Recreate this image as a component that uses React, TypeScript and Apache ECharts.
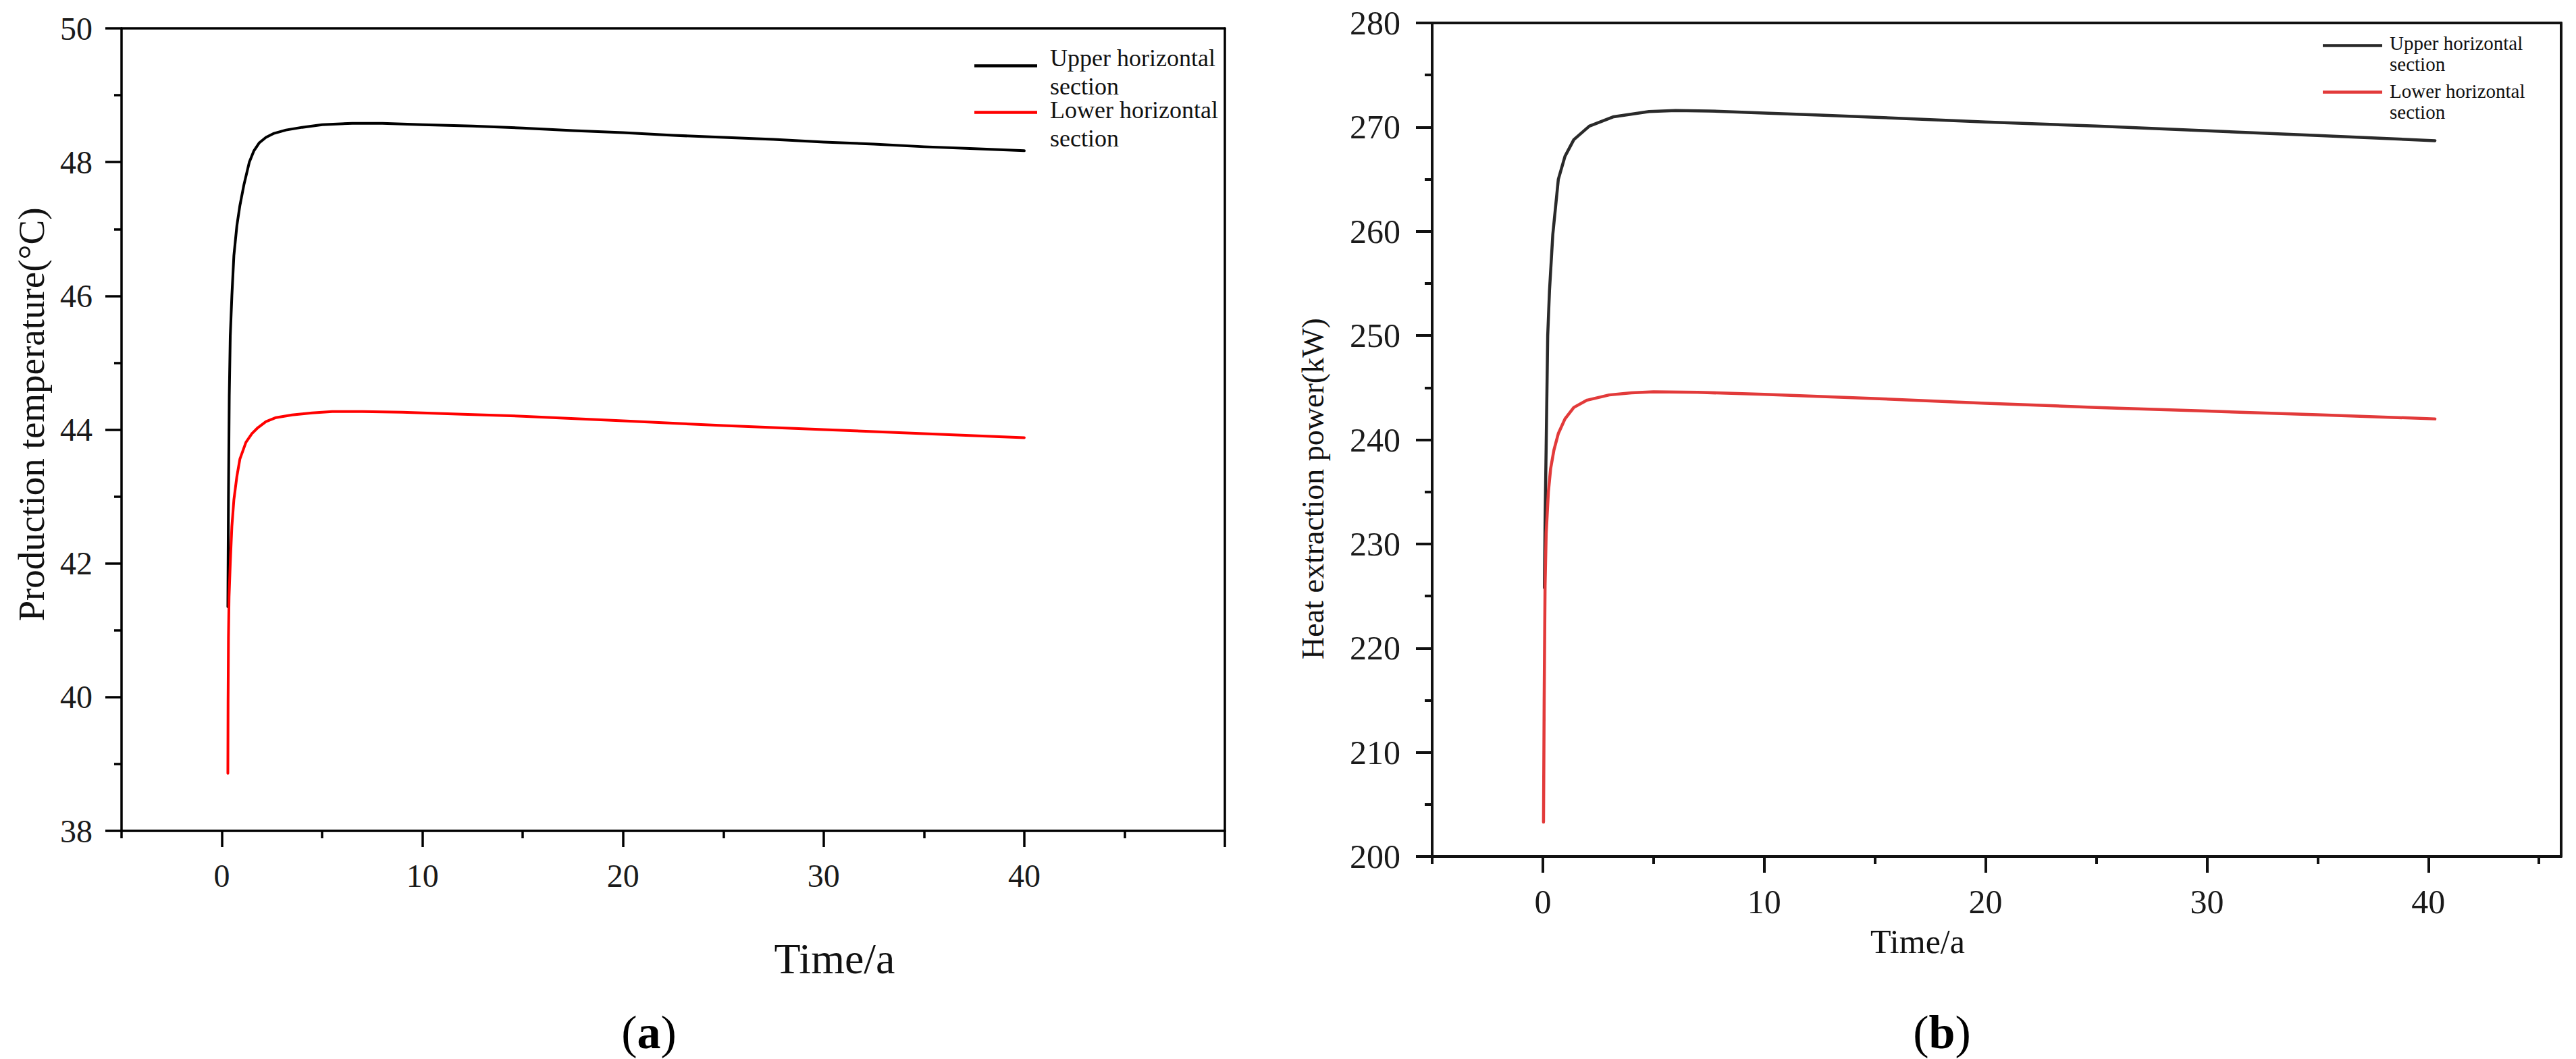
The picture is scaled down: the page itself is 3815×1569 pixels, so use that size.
import React, { useEffect, useRef } from "react";
import * as echarts from "echarts";

// ---------- data (a): production temperature ----------
const leftUpperX = [0.3, 0.33, 0.37, 0.42, 0.5, 0.6, 0.75, 0.9, 1.1, 1.37, 1.6, 1.87, 2.2, 2.6, 3.2, 4, 5, 6.5, 8, 10, 12.5, 15, 17.5, 20, 22.5, 25, 27.5, 30, 32.5, 35, 37.5, 40];
const leftUpperY = [41.35, 43.0, 44.5, 45.4, 46.0, 46.6, 47.05, 47.35, 47.66, 48.0, 48.17, 48.29, 48.37, 48.43, 48.48, 48.52, 48.56, 48.58, 48.58, 48.56, 48.54, 48.51, 48.47, 48.44, 48.4, 48.37, 48.34, 48.3, 48.27, 48.23, 48.2, 48.17];
const leftLowerX = [0.3, 0.31, 0.33, 0.36, 0.42, 0.5, 0.6, 0.75, 0.9, 1.2, 1.5, 1.8, 2.2, 2.7, 3.5, 4.5, 5.5, 7, 9, 12, 15, 20, 25, 30, 35, 40];
const leftLowerY = [38.86, 39.9, 40.9, 41.5, 42.0, 42.55, 42.95, 43.3, 43.56, 43.81, 43.94, 44.03, 44.12, 44.18, 44.22, 44.25, 44.27, 44.27, 44.26, 44.23, 44.2, 44.13, 44.06, 44.0, 43.94, 43.88];

// ---------- data (b): heat extraction power ----------
const rightUpperX = [0.07, 0.1, 0.15, 0.22, 0.3, 0.45, 0.7, 1.0, 1.4, 2.1, 3.2, 4.8, 6, 7.5, 10, 12.5, 15, 20, 25, 30, 35, 40.3];
const rightUpperY = [225.8, 232, 239.3, 250, 254.3, 259.7, 265.0, 267.2, 268.8, 270.1, 271.0, 271.5, 271.6, 271.55, 271.35, 271.15, 270.95, 270.5, 270.1, 269.65, 269.2, 268.7];
const rightLowerX = [0.03, 0.06, 0.1, 0.15, 0.25, 0.35, 0.5, 0.7, 1.0, 1.4, 2, 3, 4, 5, 7, 10, 15, 20, 25, 30, 35, 40.3];
const rightLowerY = [203.3, 215, 226, 231, 235, 237.2, 239, 240.6, 242, 243.1, 243.8, 244.3, 244.5, 244.6, 244.55, 244.35, 243.95, 243.5, 243.1, 242.75, 242.4, 242.0];

// ---------- ticks / labels ----------
const leftXMajor = [0, 10, 20, 30, 40, 50];
const leftXMinor = [-5, 5, 15, 25, 35, 45];
const leftXLabels = [0, 10, 20, 30, 40];
const rightXMajor = [0, 10, 20, 30, 40];
const rightXMinor = [-5, 5, 15, 25, 35, 45];
const rightXLabels = [0, 10, 20, 30, 40];

const seriesNames = ["Upper horizontal section", "Lower horizontal section"];

const F = "'Times New Roman', 'Liberation Serif', serif";

const pairs = (xs: number[], ys: number[]) => xs.map((x, i) => [x, ys[i]]);

function buildOption() {
  const axL = { color: "#000", width: 3.5 };
  const axR = { color: "#111", width: 4 };

  const xAxes = (gi: number, min: number, max: number, major: number[], minor: number[], labels: number[], ls: any, fs: number) => [
    {
      gridIndex: gi, type: "value", position: "bottom", min, max,
      axisLine: { show: true, onZero: false, lineStyle: ls },
      axisTick: { show: true, customValues: major, length: 24, lineStyle: ls },
      axisLabel: { show: true, customValues: labels, margin: 42, fontSize: fs, fontFamily: F, color: "#1a1a1a" },
      splitLine: { show: false },
    },
    {
      gridIndex: gi, type: "value", position: "bottom", min, max,
      axisLine: { show: false, onZero: false },
      axisTick: { show: true, customValues: minor, length: 11, lineStyle: ls },
      axisLabel: { show: false },
      splitLine: { show: false },
    },
    {
      gridIndex: gi, type: "value", position: "top", min, max,
      axisLine: { show: true, onZero: false, lineStyle: ls },
      axisTick: { show: false },
      axisLabel: { show: false },
      splitLine: { show: false },
    },
  ];

  const yAxes = (gi: number, min: number, max: number, interval: number, ls: any, fs: number, margin: number) => [
    {
      gridIndex: gi, type: "value", position: "left", min, max, interval,
      axisLine: { show: true, onZero: false, lineStyle: ls },
      axisTick: { show: true, length: 24, lineStyle: ls },
      minorTick: { show: true, splitNumber: 2, length: 11, lineStyle: ls },
      axisLabel: { show: true, margin, fontSize: fs, fontFamily: F, color: "#1a1a1a" },
      splitLine: { show: false },
    },
    {
      gridIndex: gi, type: "value", position: "right", min, max,
      axisLine: { show: true, onZero: false, lineStyle: ls },
      axisTick: { show: false },
      axisLabel: { show: false },
      splitLine: { show: false },
    },
  ];

  const line = (name: string, xi: number, yi: number, data: number[][], color: string, width: number) => ({
    type: "line", name, xAxisIndex: xi, yAxisIndex: yi, data,
    showSymbol: false, symbol: "none", smooth: false,
    lineStyle: { color, width, join: "round", cap: "round" },
    itemStyle: { color },
  });

  // one legend per item so each can sit exactly where the reference has it
  const legend = (name: string, color: string, left: number, top: number, w: number, fs: number, lh: number, padTop: number, padLeft: number) => ({
    show: true, left, top, padding: 0, orient: "vertical", selectedMode: false,
    icon: "rect", itemWidth: w, itemHeight: 4.5,
    data: [{ name, itemStyle: { color } }],
    formatter: (n: string) => {
      const [a, b] = n.split(" section");
      return `{s| }\n{t|${a}}\n{t|section${b}}`;
    },
    textStyle: {
      fontFamily: F, fontSize: fs, color: "#111",
      rich: {
        s: { fontSize: 1, lineHeight: padTop, fontFamily: F },
        t: { fontSize: fs, lineHeight: lh, fontFamily: F, color: "#111", padding: [0, 0, 0, padLeft] },
      },
    },
  });

  const label = (text: string, x: number, y: number, fs: number, rot = 0) => ({
    type: "text", x, y, rotation: rot,
    style: { text, fontFamily: F, fontSize: fs, fill: "#111", align: "center", verticalAlign: "middle" },
  });

  const panelTag = (letter: string, x: number, y: number) => ({
    type: "text", x, y,
    style: {
      text: `{p|(}{b|${letter}}{p|)}`, align: "center", verticalAlign: "middle",
      rich: {
        p: { fontFamily: F, fontSize: 70, fill: "#000" },
        b: { fontFamily: F, fontSize: 70, fontWeight: "bold", fill: "#000" },
      },
    },
  });

  return {
    animation: false,
    backgroundColor: "#fff",
    grid: [
      { left: 180, top: 42, width: 1634, height: 1189 },
      { left: 2121, top: 34, width: 1672, height: 1235 },
    ],
    xAxis: [
      ...xAxes(0, -5, 50, leftXMajor, leftXMinor, leftXLabels, axL, 48),
      ...xAxes(1, -5, 46, rightXMajor, rightXMinor, rightXLabels, axR, 50),
    ],
    yAxis: [
      ...yAxes(0, 38, 50, 2, axL, 48, 43),
      ...yAxes(1, 200, 280, 10, axR, 50, 47),
    ],
    legend: [
      legend(seriesNames[0], "#000", 1443, 55, 93, 36, 42, 18, 14),
      legend(seriesNames[1], "#ff0000", 1443, 124, 93, 36, 42, 34, 14),
      legend(seriesNames[0], "#2a2a2a", 3440, 36, 88, 29, 31, 23, 6),
      legend(seriesNames[1], "#e23a3a", 3440, 105, 88, 29, 31, 27, 6),
    ],
    series: [
      line(seriesNames[0], 0, 0, pairs(leftUpperX, leftUpperY), "#000", 4),
      line(seriesNames[1], 0, 0, pairs(leftLowerX, leftLowerY), "#ff0000", 4),
      line(seriesNames[0], 3, 2, pairs(rightUpperX, rightUpperY), "#2a2a2a", 4.5),
      line(seriesNames[1], 3, 2, pairs(rightLowerX, rightLowerY), "#e23a3a", 4.5),
    ],
    graphic: [
      label("Production temperature(°C)", 46, 614, 55, Math.PI / 2),
      label("Heat extraction power(kW)", 1944, 724, 46, Math.PI / 2),
      label("Time/a", 1236, 1420, 64),
      label("Time/a", 2840, 1395, 50),
      panelTag("a", 961, 1529),
      panelTag("b", 2876, 1529),
    ],
  };
}

export default function App() {
  const ref = useRef<HTMLDivElement>(null);
  useEffect(() => {
    if (!ref.current) return;
    const chart = echarts.init(ref.current, null, { renderer: "svg" });
    chart.setOption(buildOption() as any);
    return () => chart.dispose();
  }, []);
  return (
    <div
      ref={ref}
      style={{ position: "absolute", left: 0, top: 0, width: 3815, height: 1569, background: "#fff" }}
    />
  );
}
